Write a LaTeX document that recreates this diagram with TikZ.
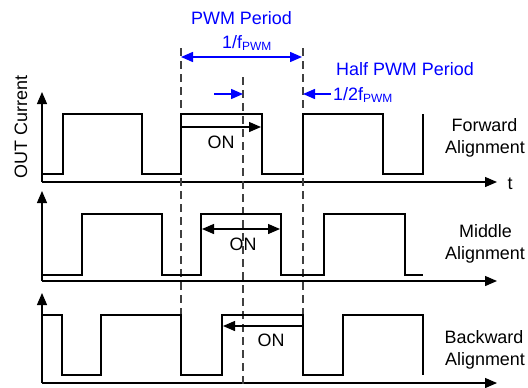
\documentclass[tikz,border=0pt]{standalone}
\usepackage{fontspec}
\setmainfont{Liberation Sans}
\usetikzlibrary{arrows.meta}
\newcommand{\pwmsub}{\raisebox{-2.5bp}{\fontsize{12}{12}\selectfont PWM}}
\begin{document}
\begin{tikzpicture}[x=1bp,y=-1bp,
  txt/.style={inner sep=0pt,anchor=base,font=\fontsize{18}{21}\selectfont},
  btxt/.style={txt,text=blue},
  wave/.style={line width=1.3bp,line join=miter},
  axis/.style={line width=1.3bp,-{Triangle[length=12bp,width=10bp]}},
  onarrow/.style={line width=1.3bp,-{Triangle[length=12bp,width=10bp]}},
  onboth/.style={line width=1.3bp,{Triangle[length=12bp,width=10bp]}-{Triangle[length=12bp,width=10bp]}},
  barrow/.style={blue,line width=1.5bp,-{Triangle[length=12bp,width=10bp]}},
  bboth/.style={blue,line width=1.5bp,{Triangle[length=12bp,width=10bp]}-{Triangle[length=12bp,width=10bp]}},
  guide/.style={line width=1.2bp,black!75,dash pattern=on 8bp off 5bp}]
\useasboundingbox (0,0) rectangle (528,387);

% axes
\coordinate (o1) at (42,182); \coordinate (y1) at (42,92); \coordinate (x1) at (497,182);
\coordinate (o2) at (42,281); \coordinate (y2) at (42,191); \coordinate (x2) at (497,281);
\coordinate (o3) at (42,383); \coordinate (y3) at (42,293); \coordinate (x3) at (497,383);
\draw[axis] (o1) -- (y1); \draw[axis] (o1) -- (x1);
\draw[axis] (o2) -- (y2); \draw[axis] (o2) -- (x2);
\draw[axis] (o3) -- (y3); \draw[axis] (o3) -- (x3);

% dashed guides
\coordinate (d1t) at (181,48);  \coordinate (d1b) at (181,375);
\coordinate (d2t) at (243,77);  \coordinate (d2b) at (243,384);
\coordinate (d3t) at (303,48);  \coordinate (d3b) at (303,375);
\draw[guide] (d1t) -- (d1b);
\draw[guide] (d2t) -- (d2b);
\draw[guide] (d3t) -- (d3b);

% waveforms
\draw[wave] (42,174) -- (63,174) -- (63,114) -- (142,114) -- (142,174) -- (181,174) -- (181,114)
  -- (262,114) -- (262,174) -- (303,174) -- (303,114) -- (383,114) -- (383,174) -- (423,174) -- (423,114);
\draw[wave] (42,275) -- (82,275) -- (82,214) -- (162,214) -- (162,275) -- (201,275) -- (201,214)
  -- (281,214) -- (281,275) -- (324,275) -- (324,214) -- (405,214) -- (405,275) -- (423,275);
\draw[wave] (42,315) -- (62,315) -- (62,375) -- (101,375) -- (101,315) -- (181,315) -- (181,375)
  -- (222,375) -- (222,315) -- (303,315) -- (303,375) -- (343,375) -- (343,315) -- (423,315) -- (423,375);

% ON arrows
\coordinate (on1a) at (181,127); \coordinate (on1b) at (261,127);
\coordinate (on2a) at (202,229); \coordinate (on2b) at (280,229);
\coordinate (on3a) at (303,326); \coordinate (on3b) at (223,326);
\draw[onarrow] (on1a) -- (on1b);
\draw[onboth] (on2a) -- (on2b);
\draw[onarrow] (on3a) -- (on3b);
\node[txt] (on1) at (221,148) {ON};
\node[txt] (on2) at (243,250) {ON};
\node[txt] (on3) at (271,346) {ON};

% blue annotations
\coordinate (p1) at (181,57); \coordinate (p2) at (302,57);
\draw[bboth] (p1) -- (p2);
\coordinate (h1) at (214,94); \coordinate (h2) at (243,94);
\draw[barrow] (h1) -- (h2);
\coordinate (h3) at (331,94); \coordinate (h4) at (303,94);
\draw[barrow] (h3) -- (h4);
\node[btxt] (pwm) at (241.5,24) {PWM Period};
\node[btxt,anchor=base west] (fpwm) at (222,48) {1/f\pwmsub};
\node[btxt] (half) at (405,75) {Half PWM Period};
\node[btxt,anchor=base west] (hfpwm) at (333,100) {1/2f\pwmsub};

% labels
\node[txt] (t) at (510,189) {t};
\node[txt,rotate=90] (ylab) at (27,127) {OUT Current};
\node[txt] (fw1) at (484.5,131) {Forward};
\node[txt] (fw2) at (485,153) {Alignment};
\node[txt] (md1) at (485.5,237) {Middle};
\node[txt] (md2) at (485,259) {Alignment};
\node[txt] (bw1) at (484,343) {Backward};
\node[txt] (bw2) at (485,365) {Alignment};
\end{tikzpicture}
\end{document}
